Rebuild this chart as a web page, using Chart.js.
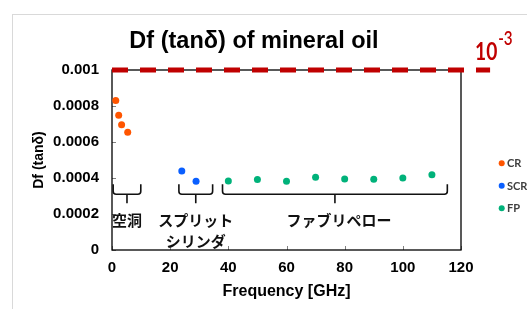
<!DOCTYPE html>
<html>
<head>
<meta charset="utf-8">
<script src="https://cdn.jsdelivr.net/npm/chart.js@4.4.1/dist/chart.umd.min.js"></script>
<style>
  html, body { margin: 0; padding: 0; background: #fff; overflow: hidden; }
  #wrap { position: relative; width: 527px; height: 309px; }
  #frame { position: absolute; left: 12px; top: 14px; width: 600px; height: 400px; border: 1px solid #d9d9d9; }
  canvas { position: absolute; left: 0; top: 0; }
</style>
</head>
<body>
<div id="wrap">
  <div id="frame"></div>
  <canvas id="chart" width="527" height="309"></canvas>
</div>
<script>
/* ── data ── */
const crFreq = [1.3, 2.3, 3.3, 5.4];
const crDf = [0.00083, 0.000748, 0.000696, 0.000654];
const scrFreq = [24, 28.9];
const scrDf = [0.000439, 0.000382];
const fpFreq = [40, 50, 60, 70, 80, 90, 100, 110];
const fpDf = [0.000383, 0.000391, 0.000382, 0.000404, 0.000394, 0.000393, 0.0004, 0.000418];
const limitFreq = [0, 130];
const limitDf = [0.001, 0.001];

const xTicks = [0, 20, 40, 60, 80, 100, 120];
const yTicks = [0, 0.0002, 0.0004, 0.0006, 0.0008, 0.001];

// measurement-method groups (frequency span of each brace)
const groupLabels = [['空洞'], ['スプリット', 'シリンダ'], ['ファブリペロー']];
const groupFrom = [0.4, 23, 38];
const groupTo = [9.9, 34.6, 115.3];

const pts = (xs, ys) => xs.map((v, i) => ({ x: v, y: ys[i] }));

const COLORS = { CR: '#ff5500', SCR: '#0a5fff', FP: '#00b27a', limit: '#c00000' };

// frame, inside ticks, braces, labels, title, legend
const decor = {
  id: 'decor',
  beforeDatasetsDraw(chart) {
    const { ctx, chartArea: a, scales: { x, y } } = chart;
    ctx.save();
    ctx.strokeStyle = '#808080';
    ctx.lineWidth = 1;
    xTicks.forEach(v => {
      const px = Math.round(x.getPixelForValue(v)) + 0.5;
      ctx.beginPath(); ctx.moveTo(px, a.bottom); ctx.lineTo(px, a.bottom - 4); ctx.stroke();
    });
    yTicks.forEach(v => {
      const py = Math.round(y.getPixelForValue(v)) + 0.5;
      ctx.beginPath(); ctx.moveTo(a.left, py); ctx.lineTo(a.left + 4, py); ctx.stroke();
    });
    ctx.strokeStyle = '#000';
    ctx.lineWidth = 1.3;
    ctx.strokeRect(a.left, a.top, a.right - a.left, a.bottom - a.top);

    // braces
    const yh = y.getPixelForValue(0.00031);
    ctx.strokeStyle = '#111';
    ctx.lineWidth = 1.6;
    ctx.lineJoin = 'round';
    ctx.font = 'bold 15px "Noto Sans CJK JP"';
    ctx.fillStyle = '#111';
    ctx.textAlign = 'center';
    ctx.textBaseline = 'middle';
    groupFrom.forEach((f, i) => {
      const x0 = x.getPixelForValue(f), x1 = x.getPixelForValue(groupTo[i]);
      const xm = (x0 + x1) / 2;
      ctx.beginPath();
      ctx.moveTo(x0, yh - 10);
      ctx.lineTo(x0, yh - 3);
      ctx.quadraticCurveTo(x0, yh, x0 + 3, yh);
      ctx.lineTo(x1 - 3, yh);
      ctx.quadraticCurveTo(x1, yh, x1, yh - 3);
      ctx.lineTo(x1, yh - 10);
      ctx.moveTo(xm, yh);
      ctx.lineTo(xm, yh + 9);
      ctx.stroke();
      groupLabels[i].forEach((t, j) => ctx.fillText(t, xm + (i === 2 ? 4 : 0), yh + 26 + j * 21));
    });
    ctx.restore();
  },
  afterDraw(chart) {
    const { ctx } = chart;
    ctx.save();
    // title
    ctx.fillStyle = '#000';
    ctx.font = 'bold 23.5px "Liberation Sans", Arial, sans-serif';
    ctx.textAlign = 'center';
    ctx.textBaseline = 'alphabetic';
    ctx.fillText('Df (tanδ) of mineral oil', 254, 48);

    // 10^-3, narrowed to look like the original's Calibri
    ctx.fillStyle = COLORS.limit;
    ctx.textAlign = 'left';
    ctx.save();
    ctx.translate(475, 0);
    ctx.scale(0.8, 1);
    ctx.font = 'bold 24px Lato, sans-serif';
    ctx.fillText('10', 0, 60);
    ctx.font = '600 19px Lato, sans-serif';
    ctx.fillText('-3', 29, 45);
    ctx.restore();

    // legend
    ctx.font = 'bold 11px Lato, sans-serif';
    ctx.textBaseline = 'middle';
    chart.data.datasets.slice(0, 3).forEach((ds, i) => {
      const cy = 163.3 + i * 22.5;
      ctx.fillStyle = ds.backgroundColor;
      ctx.beginPath(); ctx.arc(501.7, cy, 3, 0, Math.PI * 2); ctx.fill();
      ctx.fillStyle = '#404040';
      ctx.fillText(ds.label, 507, cy + 0.5);
    });
    ctx.restore();
  }
};

const dotStyle = c => ({ backgroundColor: c, pointBackgroundColor: c, pointRadius: 3.5, pointBorderWidth: 0, pointHoverRadius: 3.5 });

new Chart(document.getElementById('chart'), {
  type: 'scatter',
  data: {
    datasets: [
      { label: 'CR', data: pts(crFreq, crDf), ...dotStyle(COLORS.CR) },
      { label: 'SCR', data: pts(scrFreq, scrDf), ...dotStyle(COLORS.SCR) },
      { label: 'FP', data: pts(fpFreq, fpDf), ...dotStyle(COLORS.FP) },
      {
        label: 'limit', type: 'line', data: pts(limitFreq, limitDf),
        borderColor: COLORS.limit, borderWidth: 5, borderDash: [16, 12],
        pointRadius: 0, clip: false, showLine: true
      }
    ]
  },
  options: {
    responsive: false,
    animation: false,
    devicePixelRatio: 1,
    layout: { padding: { left: 0, top: 70, right: 66, bottom: 0 } },
    plugins: { legend: { display: false }, title: { display: false }, tooltip: { enabled: false } },
    scales: {
      x: {
        type: 'linear', min: 0, max: 120,
        afterBuildTicks: s => { s.ticks = xTicks.map(v => ({ value: v })); },
        afterFit: s => { s.height = 59; },
        grid: { display: false, drawTicks: false },
        border: { display: false },
        ticks: { padding: 9, color: '#000', font: { family: '"Liberation Sans", Arial', size: 15, weight: 'bold' } },
        title: { display: true, text: 'Frequency [GHz]', color: '#000', padding: { top: 0, bottom: 8 },
                 font: { family: '"Liberation Sans", Arial', size: 16, weight: 'bold' } }
      },
      y: {
        type: 'linear', min: 0, max: 0.001,
        afterBuildTicks: s => { s.ticks = yTicks.map(v => ({ value: v })); },
        afterFit: s => { s.width = 112; },
        grid: { display: false, drawTicks: false },
        border: { display: false },
        ticks: { padding: 13, color: '#000', callback: v => String(+v.toFixed(4)),
                 font: { family: '"Liberation Sans", Arial', size: 15, weight: 'bold' } },
        title: { display: true, text: 'Df (tanδ)', color: '#000', padding: { top: 31, bottom: 0 },
                 font: { family: '"Liberation Sans", Arial', size: 14, weight: 'bold' } }
      }
    }
  },
  plugins: [decor]
});
</script>
</body>
</html>
